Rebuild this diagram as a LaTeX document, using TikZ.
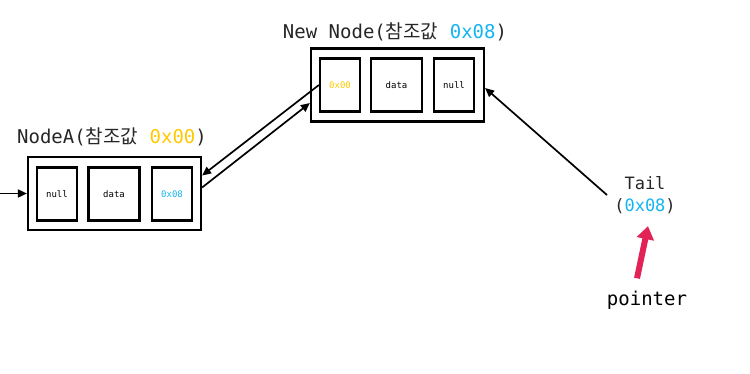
\documentclass[tikz,border=0pt]{standalone}
\usepackage{fontspec}
\setmainfont{DejaVu Sans Mono}
\newfontfamily\kor{Noto Sans CJK KR}
\usetikzlibrary{arrows.meta,calc,positioning}
\definecolor{addrYellow}{RGB}{255,200,0}
\definecolor{addrBlue}{RGB}{20,180,240}
\definecolor{ptrRed}{RGB}{225,35,85}

\begin{document}
\begin{tikzpicture}[x=1pt,y=-1pt,
  outer/.style={draw, line width=2.2pt, minimum width=173pt, minimum height=73pt, inner sep=0pt},
  cell/.style={draw, line width=2.2pt, minimum width=40pt, minimum height=53pt, inner sep=0pt, font=\fontsize{9}{10}\selectfont},
  datacell/.style={cell, minimum width=51pt},
  title/.style={font=\fontsize{19}{22}\selectfont, text=black!85},
  link/.style={-{Triangle[length=9pt,width=8pt]}, line width=1.7pt}]
\useasboundingbox (0,0) rectangle (750,373);

% NodeA (first node)
\node[outer] (nodeA) at (114.5,193.5) {};
\node[cell] (aprev) at (57,194) {null};
\node[datacell] (adata) at (114,194) {data};
\node[cell] (anext) at (172,194) {\textcolor{addrBlue}{0x08}};
\node[title] (atitle) at (112,137) {NodeA({\kor 참조값} \textcolor{addrYellow}{0x00})};

% New Node (appended)
\node[outer] (newnode) at (397.5,85) {};
\node[cell] (nprev) at (340,85) {\textcolor{addrYellow}{0x00}};
\node[datacell] (ndata) at (396.5,85) {data};
\node[cell] (nnext) at (454,85) {null};
\node[title] (ntitle) at (395,32) {New Node({\kor 참조값} \textcolor{addrBlue}{0x08})};

% Tail pointer
\node[title, font=\fontsize{17}{22}\selectfont, align=center] (tail) at (645,195) {Tail\\(\textcolor{addrBlue}{0x08})};
\node[font=\fontsize{19}{22}\selectfont] (pointer) at (647,300) {pointer};
\coordinate (head) at (0,193.5);
\coordinate (tailfrom) at (607,195);

% Links
\draw[link] (head) -- (nodeA.west);
\draw[link] (nprev.west) -- ($(nodeA.east)+(0,-18)$);
\draw[link] ($(nodeA.east)+(0,-6)$) -- ($(newnode.west)+(0,18)$);
\draw[link] (tailfrom) -- ($(newnode.east)+(0,3)$);
\draw[ptrRed, line width=6pt, -{Triangle[length=13pt,width=17pt]}]
  ($(pointer.north)+(-10,-9)$) -- ($(tail.south)+(3,9)$);

\end{tikzpicture}
\end{document}
